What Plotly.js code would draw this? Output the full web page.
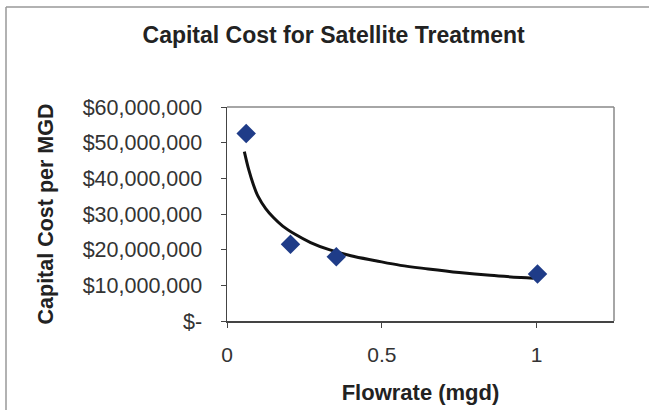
<!DOCTYPE html>
<html>
<head>
<meta charset="utf-8">
<script src="https://cdn.plot.ly/plotly-3.0.1.min.js"></script>
<style>
  html, body { margin: 0; padding: 0; background: #ffffff; }
  #chart { width: 649px; height: 410px; }
</style>
</head>
<body>
<div id="chart"></div>
<script>
// Observed data points (flowrate in mgd, capital cost per MGD in $)
var flowrate = [0.062, 0.205, 0.353, 1.003];
var capitalCost = [52600000, 21500000, 18000000, 13200000];

// Trend line
var trendFlow = [0.056, 0.07, 0.085, 0.1, 0.125, 0.15, 0.18, 0.22, 0.27, 0.33, 0.4, 0.48, 0.56, 0.65, 0.75, 0.85, 0.95, 0.99];
var trendCost = [47500000, 42500000, 38300000, 35000000, 31500000, 29000000, 26600000, 24300000, 22000000, 20000000, 18300000, 16900000, 15600000, 14600000, 13600000, 12800000, 12200000, 12000000];

// Axis ticks
var yTickVals = [0, 10000000, 20000000, 30000000, 40000000, 50000000, 60000000];
var yTickText = ["$-", "$10,000,000", "$20,000,000", "$30,000,000", "$40,000,000", "$50,000,000", "$60,000,000"];
var xTickVals = [0, 0.5, 1];
var xTickText = ["0", "0.5", "1"];

var traces = [
  {
    x: trendFlow, y: trendCost, type: "scatter", mode: "lines",
    line: { color: "#111111", width: 3, shape: "spline", smoothing: 1 },
    hoverinfo: "skip", showlegend: false
  },
  {
    x: flowrate, y: capitalCost, type: "scatter", mode: "markers",
    marker: { symbol: "diamond", size: 15, color: "#1f3c88" },
    showlegend: false
  }
];

var font = "Liberation Sans, Arial, sans-serif";
var layout = {
  width: 649, height: 410,
  margin: { l: 227, r: 35, t: 107, b: 89 },
  paper_bgcolor: "#ffffff",
  plot_bgcolor: "#ffffff",
  font: { family: font, color: "#222222" },
  title: {
    text: "<b>Capital Cost for Satellite Treatment</b>",
    font: { family: font, size: 23, color: "#222222" },
    x: 0.514, xanchor: "center", y: 0.915, yanchor: "middle"
  },
  xaxis: {
    range: [0, 1.25], tickvals: xTickVals, ticktext: xTickText,
    showgrid: false, zeroline: false,
    showline: true, linecolor: "#444444", linewidth: 1.5,
    ticks: "outside", ticklen: 5, tickcolor: "#444444",
    tickfont: { family: font, size: 21, color: "#333333" },
    ticklabelstandoff: 9,
    title: { text: "<b>Flowrate (mgd)</b>", font: { family: font, size: 22, color: "#222222" }, standoff: 20 }
  },
  yaxis: {
    range: [0, 60000000], tickvals: yTickVals, ticktext: yTickText,
    showgrid: false, zeroline: false,
    showline: true, linecolor: "#444444", linewidth: 1.5,
    ticks: "outside", ticklen: 5, tickcolor: "#444444",
    tickfont: { family: font, size: 21.5, color: "#333333" },
    ticklabelstandoff: 14,
    title: { text: "<b>Capital Cost per MGD</b>", font: { family: font, size: 21.5, color: "#222222" }, standoff: 23 }
  },
  shapes: [
    { type: "line", xref: "paper", yref: "paper", x0: 0, x1: 1, y0: 1, y1: 1, line: { color: "#888888", width: 1.5 } },
    { type: "line", xref: "paper", yref: "paper", x0: 1, x1: 1, y0: 0, y1: 1, line: { color: "#888888", width: 1.5 } },
    { type: "line", xref: "paper", yref: "paper", x0: -221/387, x1: 422/387, y0: 1 + 100/214, y1: 1 + 100/214, line: { color: "#999999", width: 1.5 } },
    { type: "line", xref: "paper", yref: "paper", x0: -221/387, x1: -221/387, y0: 1 + 100/214, y1: -89/214, line: { color: "#999999", width: 1.5 } }
  ]
};

Plotly.newPlot("chart", traces, layout, { displayModeBar: false, staticPlot: true });
</script>
</body>
</html>
